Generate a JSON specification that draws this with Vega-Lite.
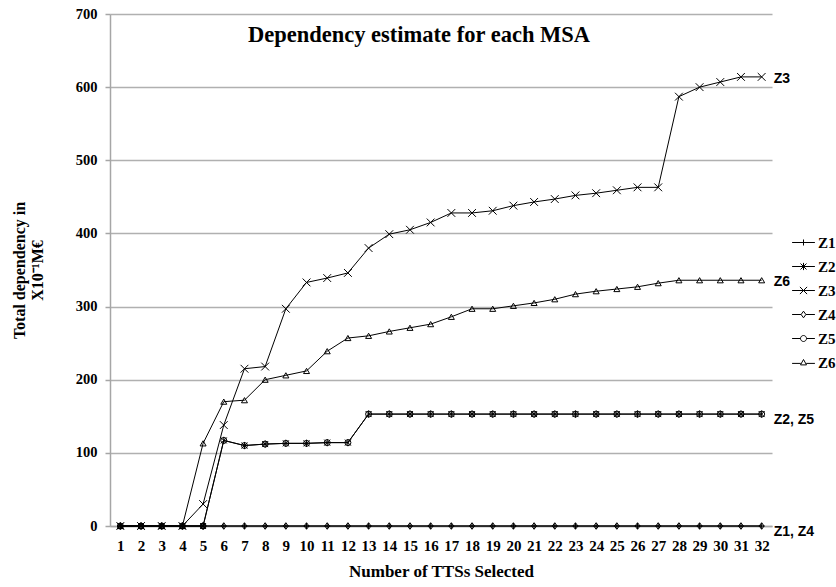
{
  "$schema": "https://vega.github.io/schema/vega-lite/v6.json",
  "width": 662,
  "height": 512,
  "autosize": "none",
  "padding": {"left": 110, "top": 14, "right": 64, "bottom": 61},
  "background": "white",
  "config": {
    "view": {"stroke": null},
    "font": "Liberation Serif"
  },
  "title": {
    "text": "Dependency estimate for each MSA",
    "anchor": "start",
    "frame": "group",
    "dx": 138,
    "offset": -58,
    "baseline": "alphabetic",
    "font": "Liberation Serif",
    "fontSize": 22.5,
    "fontWeight": "bold",
    "color": "black"
  },
  "datasets": {
    "series": [
      {"n": 1, "Z1": 0, "Z2": 0, "Z3": 0, "Z4": 0, "Z5": 0, "Z6": 0},
      {"n": 2, "Z1": 0, "Z2": 0, "Z3": 0, "Z4": 0, "Z5": 0, "Z6": 0},
      {"n": 3, "Z1": 0, "Z2": 0, "Z3": 0, "Z4": 0, "Z5": 0, "Z6": 0},
      {"n": 4, "Z1": 0, "Z2": 0, "Z3": 0, "Z4": 0, "Z5": 0, "Z6": 0},
      {"n": 5, "Z1": 0, "Z2": 0, "Z3": 30, "Z4": 0, "Z5": 0, "Z6": 113},
      {"n": 6, "Z1": 0, "Z2": 117, "Z3": 138, "Z4": 0, "Z5": 117, "Z6": 170},
      {"n": 7, "Z1": 0, "Z2": 110, "Z3": 215, "Z4": 0, "Z5": 110, "Z6": 172},
      {"n": 8, "Z1": 0, "Z2": 112, "Z3": 218, "Z4": 0, "Z5": 112, "Z6": 200},
      {"n": 9, "Z1": 0, "Z2": 113, "Z3": 297, "Z4": 0, "Z5": 113, "Z6": 206},
      {"n": 10, "Z1": 0, "Z2": 113, "Z3": 333, "Z4": 0, "Z5": 113, "Z6": 212},
      {"n": 11, "Z1": 0, "Z2": 114, "Z3": 339, "Z4": 0, "Z5": 114, "Z6": 239},
      {"n": 12, "Z1": 0, "Z2": 114, "Z3": 346, "Z4": 0, "Z5": 114, "Z6": 257},
      {"n": 13, "Z1": 0, "Z2": 153, "Z3": 380, "Z4": 0, "Z5": 153, "Z6": 260},
      {"n": 14, "Z1": 0, "Z2": 153, "Z3": 399, "Z4": 0, "Z5": 153, "Z6": 266},
      {"n": 15, "Z1": 0, "Z2": 153, "Z3": 405, "Z4": 0, "Z5": 153, "Z6": 271},
      {"n": 16, "Z1": 0, "Z2": 153, "Z3": 415, "Z4": 0, "Z5": 153, "Z6": 276},
      {"n": 17, "Z1": 0, "Z2": 153, "Z3": 428, "Z4": 0, "Z5": 153, "Z6": 286},
      {"n": 18, "Z1": 0, "Z2": 153, "Z3": 428, "Z4": 0, "Z5": 153, "Z6": 297},
      {"n": 19, "Z1": 0, "Z2": 153, "Z3": 431, "Z4": 0, "Z5": 153, "Z6": 297},
      {"n": 20, "Z1": 0, "Z2": 153, "Z3": 438, "Z4": 0, "Z5": 153, "Z6": 301},
      {"n": 21, "Z1": 0, "Z2": 153, "Z3": 443, "Z4": 0, "Z5": 153, "Z6": 305},
      {"n": 22, "Z1": 0, "Z2": 153, "Z3": 447, "Z4": 0, "Z5": 153, "Z6": 310},
      {"n": 23, "Z1": 0, "Z2": 153, "Z3": 452, "Z4": 0, "Z5": 153, "Z6": 317},
      {"n": 24, "Z1": 0, "Z2": 153, "Z3": 455, "Z4": 0, "Z5": 153, "Z6": 321},
      {"n": 25, "Z1": 0, "Z2": 153, "Z3": 459, "Z4": 0, "Z5": 153, "Z6": 324},
      {"n": 26, "Z1": 0, "Z2": 153, "Z3": 463, "Z4": 0, "Z5": 153, "Z6": 327},
      {"n": 27, "Z1": 0, "Z2": 153, "Z3": 463, "Z4": 0, "Z5": 153, "Z6": 332},
      {"n": 28, "Z1": 0, "Z2": 153, "Z3": 587, "Z4": 0, "Z5": 153, "Z6": 336},
      {"n": 29, "Z1": 0, "Z2": 153, "Z3": 600, "Z4": 0, "Z5": 153, "Z6": 336},
      {"n": 30, "Z1": 0, "Z2": 153, "Z3": 607, "Z4": 0, "Z5": 153, "Z6": 336},
      {"n": 31, "Z1": 0, "Z2": 153, "Z3": 614, "Z4": 0, "Z5": 153, "Z6": 336},
      {"n": 32, "Z1": 0, "Z2": 153, "Z3": 614, "Z4": 0, "Z5": 153, "Z6": 336}
    ],
    "labels": [
      {"n": 32, "value": 614, "label": "Z3", "grp": "a"},
      {"n": 32, "value": 336, "label": "Z6", "grp": "a"},
      {"n": 32, "value": 153, "label": "Z2,  Z5", "grp": "b"},
      {"n": 32, "value": 0, "label": "Z1,  Z4", "grp": "b"}
    ]
  },
  "resolve": {"scale": {"shape": "independent"}, "legend": {"shape": "independent"}},
  "layer": [
    {
      "data": {"name": "series"},
      "transform": [{"fold": ["Z1", "Z2", "Z3", "Z4", "Z5", "Z6"], "as": ["zone", "value"]}],
      "mark": {"type": "line", "color": "black", "strokeWidth": 1},
      "encoding": {
        "x": {
          "field": "n",
          "type": "ordinal",
          "axis": {
            "title": "Number of TTSs Selected",
            "labelAngle": 0,
            "ticks": false,
            "grid": false,
            "domainColor": "#a6a6a6",
            "domainWidth": 1.5,
            "labelFont": "Liberation Serif",
            "labelFontSize": 15,
            "labelFontWeight": "bold",
            "labelColor": "black",
            "labelPadding": 12,
            "titleFont": "Liberation Serif",
            "titleFontSize": 17,
            "titleFontWeight": "bold",
            "titleColor": "black",
            "titlePadding": 10
          }
        },
        "y": {
          "field": "value",
          "type": "quantitative",
          "scale": {"domain": [0, 700], "nice": false},
          "axis": {
            "values": [0, 100, 200, 300, 400, 500, 600, 700],
            "title": ["Total dependency in", "X10⁻¹M€"],
            "grid": true,
            "gridColor": "#b0b0b0",
            "gridWidth": 1.5,
            "domainColor": "#a6a6a6",
            "domainWidth": 1.5,
            "tickColor": "#a6a6a6",
            "tickSize": 5,
            "tickWidth": 1.5,
            "labelFont": "Liberation Serif",
            "labelFontSize": 14.5,
            "labelFontWeight": "bold",
            "labelColor": "black",
            "labelPadding": 8,
            "titleFont": "Liberation Serif",
            "titleFontSize": 16,
            "titleFontWeight": "bold",
            "titleColor": "black",
            "titlePadding": 30
          }
        },
        "detail": {"field": "zone", "type": "nominal"}
      }
    },
    {
      "data": {"name": "series"},
      "transform": [{"fold": ["Z1", "Z2", "Z3", "Z4", "Z5", "Z6"], "as": ["zone", "value"]}],
      "mark": {"type": "point", "filled": false, "stroke": "black", "strokeWidth": 1, "size": 36, "opacity": 1},
      "encoding": {
        "x": {"field": "n", "type": "ordinal"},
        "y": {"field": "value", "type": "quantitative"},
        "shape": {
          "field": "zone",
          "type": "nominal",
          "scale": {
            "domain": ["Z1", "Z2", "Z3", "Z4", "Z5", "Z6"],
            "range": [
              "M-1,0L1,0M0,-1L0,1",
              "M-1,-1L1,1M-1,1L1,-1M0,-1.2L0,1.2",
              "M-1.3,-1.3L1.3,1.3M-1.3,1.3L1.3,-1.3",
              "M-0.8,0L0,-1.1L0.8,0L0,1.1Z",
              "circle",
              "triangle-up"
            ]
          },
          "legend": null
        }
      }
    },
    {
      "data": {"name": "series"},
      "transform": [{"fold": ["Z1", "Z2", "Z3", "Z4", "Z5", "Z6"], "as": ["zone", "value"]}],
      "mark": {"type": "point", "filled": false, "stroke": "black", "strokeWidth": 1, "size": 36, "opacity": 0},
      "encoding": {
        "x": {"field": "n", "type": "ordinal"},
        "y": {"field": "value", "type": "quantitative"},
        "shape": {
          "field": "zone",
          "type": "nominal",
          "scale": {
            "domain": ["Z1", "Z2", "Z3", "Z4", "Z5", "Z6"],
            "range": [
              "M-3.8,0L3.8,0M0,-1L0,1",
              "M-3.8,0L3.8,0M-1,-1L1,1M-1,1L1,-1M0,-1.2L0,1.2",
              "M-3.8,0L3.8,0M-1.2,-1.2L1.2,1.2M-1.2,1.2L1.2,-1.2",
              "M-3.8,0L-0.8,0M0.8,0L3.8,0M-0.8,0L0,-1.1L0.8,0L0,1.1Z",
              "M-3.8,0L-1,0M1,0L3.8,0M-1,0A1,1,0,1,0,1,0A1,1,0,1,0,-1,0Z",
              "M-3.8,0.3L-0.9,0.3M0.9,0.3L3.8,0.3M-1,0.8L0,-1L1,0.8Z"
            ]
          },
          "legend": {
            "orient": "none",
            "legendX": 686,
            "legendY": 221,
            "title": null,
            "symbolSize": 36,
            "symbolOpacity": 1,
            "symbolStrokeColor": "black",
            "symbolStrokeWidth": 1,
            "symbolFillColor": "transparent",
            "labelFont": "Liberation Serif",
            "labelFontSize": 15,
            "labelFontWeight": "bold",
            "labelColor": "black",
            "labelOffset": 7,
            "rowPadding": 8
          }
        }
      }
    },
    {
      "data": {"name": "labels"},
      "transform": [{"filter": "datum.grp === 'a'"}],
      "mark": {"type": "text", "align": "left", "baseline": "middle", "dx": 12, "dy": 2, "font": "Liberation Sans", "fontSize": 14, "fontWeight": "bold", "color": "black"},
      "encoding": {
        "x": {"field": "n", "type": "ordinal"},
        "y": {"field": "value", "type": "quantitative"},
        "text": {"field": "label"}
      }
    },
    {
      "data": {"name": "labels"},
      "transform": [{"filter": "datum.grp === 'b'"}],
      "mark": {"type": "text", "align": "left", "baseline": "middle", "dx": 12, "dy": 6, "font": "Liberation Sans", "fontSize": 14, "fontWeight": "bold", "color": "black"},
      "encoding": {
        "x": {"field": "n", "type": "ordinal"},
        "y": {"field": "value", "type": "quantitative"},
        "text": {"field": "label"}
      }
    }
  ]
}
